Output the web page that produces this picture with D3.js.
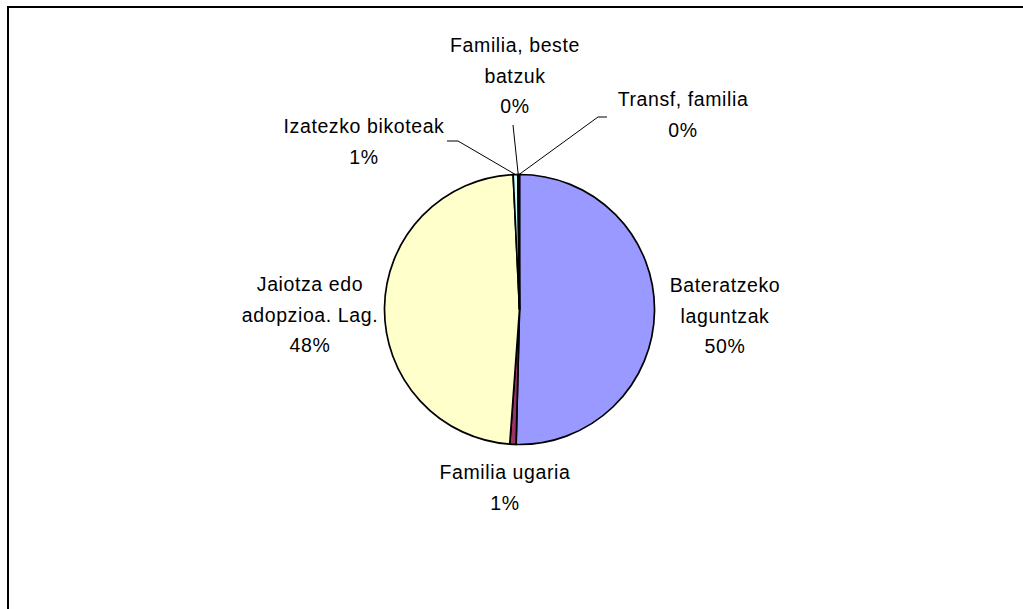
<!DOCTYPE html>
<html>
<head>
<meta charset="utf-8">
<script src="https://cdn.jsdelivr.net/npm/d3@7"></script>
<style>
  body { margin: 0; background: #fff; }
  svg text { font-family: "Liberation Sans", Arial, sans-serif; font-size: 19.5px; letter-spacing: 0.6px; fill: #000; }
</style>
</head>
<body>
<div id="chart"></div>
<script>
// Data
const categories = [
    ["Bateratzeko", "laguntzak"],
    ["Familia ugaria"],
    ["Jaiotza edo", "adopzioa. Lag."],
    ["Izatezko bikoteak"],
    ["Familia, beste", "batzuk"],
    ["Transf, familia"]
];
const values = [50.4, 0.75, 48.1, 0.55, 0.1, 0.1];
const colors = ["#9999ff", "#993366", "#ffffcc", "#ccffff", "#660066", "#ff8080"];

// Layout of labels (label centre x, first baseline y) and leader line starts
const labelPos = [[725, 292], [505, 479], [310, 291], [364, 133], [515, 52], [683, 106]];
const leaderFrom = [null, null, null, [[447, 141], [458, 141]], [[513, 125]], [[607, 117], [598, 117]]];

const width = 1023, height = 609;
const cx = 519.5, cy = 309.5, r = 135;
const lineH = 30.5;

const svg = d3.select("#chart")
    .append("svg")
    .attr("width", width)
    .attr("height", height);

// Frame (only top and left edges visible)
svg.append("path")
    .attr("d", `M8,${height} L8,7 L${width},7`)
    .attr("fill", "none")
    .attr("stroke", "#000")
    .attr("stroke-width", 2);

const total = d3.sum(values);
const pie = d3.pie().sort(null).value(d => d)(values);
const arc = d3.arc().innerRadius(0).outerRadius(r);

const g = svg.append("g").attr("transform", `translate(${cx},${cy})`);

g.selectAll("path.slice")
    .data(pie)
    .join("path")
    .attr("class", "slice")
    .attr("d", arc)
    .attr("fill", (d, i) => colors[i])
    .attr("stroke", "#000")
    .attr("stroke-width", 1.7);

// Leader lines
pie.forEach((d, i) => {
    if (!leaderFrom[i]) return;
    const mid = (d.startAngle + d.endAngle) / 2;
    const end = [cx + r * Math.sin(mid), cy - r * Math.cos(mid)];
    const pts = leaderFrom[i].concat([end]);
    svg.append("path")
        .attr("d", d3.line()(pts))
        .attr("fill", "none")
        .attr("stroke", "#000")
        .attr("stroke-width", 1);
});

// Labels
const fmt = v => Math.round(v / total * 100) + "%";
categories.forEach((lines, i) => {
    const all = lines.concat([fmt(values[i])]);
    const t = svg.append("text")
        .attr("text-anchor", "middle")
        .attr("x", labelPos[i][0])
        .attr("y", labelPos[i][1]);
    all.forEach((s, j) => {
        t.append("tspan")
            .attr("x", labelPos[i][0])
            .attr("y", labelPos[i][1] + j * lineH)
            .text(s);
    });
});
</script>
</body>
</html>
